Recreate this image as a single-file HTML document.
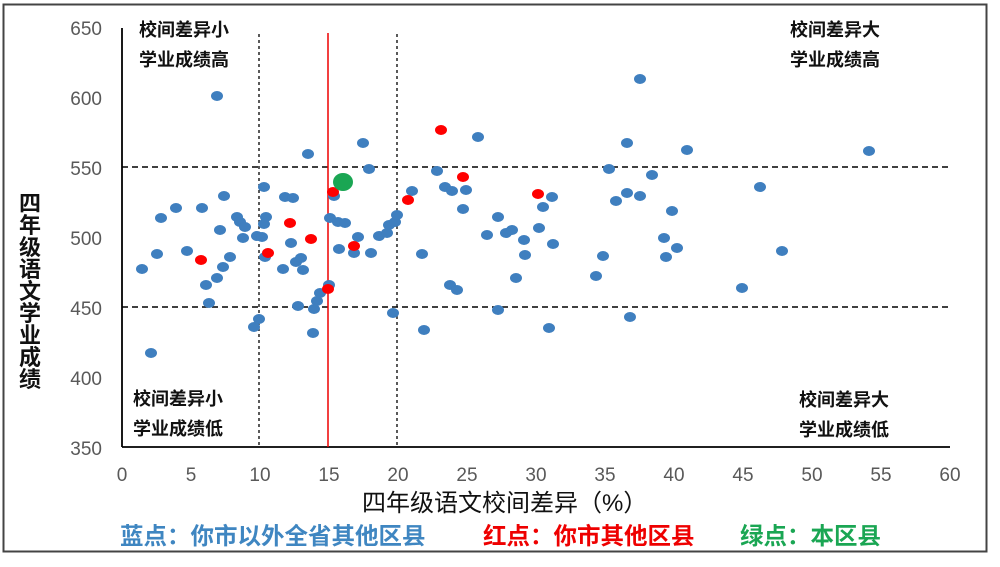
<!DOCTYPE html>
<html><head><meta charset="utf-8"><style>
body{margin:0;background:#fff;}
svg text{font-family:"Liberation Sans","Noto Sans CJK SC",sans-serif;}
</style></head><body>
<svg width="1000" height="562" viewBox="0 0 1000 562" xmlns="http://www.w3.org/2000/svg">
<rect x="3.5" y="4.5" width="983" height="547" fill="#fff" stroke="#444" stroke-width="2"/>
<g stroke="#000" stroke-width="1.5" stroke-dasharray="6,4" fill="none">
<line x1="122" y1="167" x2="950" y2="167"/>
<line x1="122" y1="307" x2="950" y2="307"/>
</g>
<g stroke="#000" stroke-width="1.3" stroke-dasharray="3,3" fill="none">
<line x1="259" y1="34" x2="259" y2="447"/>
<line x1="397" y1="34" x2="397" y2="447"/>
</g>
<line x1="122" y1="28" x2="122" y2="447" stroke="#000" stroke-width="1.8"/>
<line x1="122" y1="447" x2="950" y2="447" stroke="#000" stroke-width="1.8"/>
<line x1="328" y1="33" x2="328" y2="447" stroke="#e00" stroke-width="1.5"/>
<g font-size="19" fill="#595959" text-anchor="end">
<text x="102" y="35">650</text><text x="102" y="105">600</text><text x="102" y="175">550</text>
<text x="102" y="245">500</text><text x="102" y="315">450</text><text x="102" y="385">400</text><text x="102" y="455">350</text>
</g>
<g font-size="19" fill="#595959" text-anchor="middle">
<text x="122" y="481">0</text><text x="191" y="481">5</text><text x="260" y="481">10</text><text x="329" y="481">15</text>
<text x="398" y="481">20</text><text x="467" y="481">25</text><text x="536" y="481">30</text><text x="605" y="481">35</text>
<text x="674" y="481">40</text><text x="743" y="481">45</text><text x="812" y="481">50</text><text x="881" y="481">55</text><text x="950" y="481">60</text>
</g>
<g font-size="18" font-weight="bold" fill="#111">
<text x="139" y="36">校间差异小</text><text x="139" y="66">学业成绩高</text>
<text x="790" y="36">校间差异大</text><text x="790" y="66">学业成绩高</text>
<text x="133" y="405">校间差异小</text><text x="133" y="435">学业成绩低</text>
<text x="799" y="406">校间差异大</text><text x="799" y="436">学业成绩低</text>
</g>
<g font-size="22" font-weight="bold" fill="#111" text-anchor="middle">
<text x="30" y="211">四</text><text x="30" y="233">年</text><text x="30" y="255">级</text><text x="30" y="277">语</text>
<text x="30" y="299">文</text><text x="30" y="321">学</text><text x="30" y="343">业</text><text x="30" y="365">成</text><text x="30" y="387">绩</text>
</g>
<text x="362" y="511" font-size="24" fill="#111">四年级语文校间差异（%）</text>
<g font-size="23.5" font-weight="bold">
<text x="120" y="544" fill="#3f86c1">蓝点：你市以外全省其他区县</text>
<text x="483" y="544" fill="#e00">红点：你市其他区县</text>
<text x="740" y="544" fill="#1aa653">绿点：本区县</text>
</g>
<g fill="#3f7fbf">
<ellipse cx="217" cy="96" rx="6" ry="5"/><ellipse cx="308" cy="154" rx="6" ry="5"/><ellipse cx="363" cy="143" rx="6" ry="5"/>
<ellipse cx="369" cy="169" rx="6" ry="5"/><ellipse cx="264" cy="187" rx="6" ry="5"/><ellipse cx="224" cy="196" rx="6" ry="5"/>
<ellipse cx="285" cy="197" rx="6" ry="5"/><ellipse cx="293" cy="198" rx="6" ry="5"/><ellipse cx="176" cy="208" rx="6" ry="5"/>
<ellipse cx="202" cy="208" rx="6" ry="5"/><ellipse cx="161" cy="218" rx="6" ry="5"/><ellipse cx="237" cy="217" rx="6" ry="5"/>
<ellipse cx="240" cy="222" rx="6" ry="5"/><ellipse cx="245" cy="227" rx="6" ry="5"/><ellipse cx="266" cy="217" rx="6" ry="5"/>
<ellipse cx="264" cy="224" rx="6" ry="5"/><ellipse cx="220" cy="230" rx="6" ry="5"/><ellipse cx="243" cy="238" rx="6" ry="5"/>
<ellipse cx="257" cy="236" rx="6" ry="5"/><ellipse cx="262" cy="237" rx="6" ry="5"/><ellipse cx="330" cy="218" rx="6" ry="5"/>
<ellipse cx="338" cy="222" rx="6" ry="5"/><ellipse cx="345" cy="223" rx="6" ry="5"/><ellipse cx="358" cy="237" rx="6" ry="5"/>
<ellipse cx="379" cy="236" rx="6" ry="5"/><ellipse cx="387" cy="233" rx="6" ry="5"/><ellipse cx="389" cy="225" rx="6" ry="5"/>
<ellipse cx="395" cy="222" rx="6" ry="5"/><ellipse cx="397" cy="215" rx="6" ry="5"/><ellipse cx="412" cy="191" rx="6" ry="5"/>
<ellipse cx="437" cy="171" rx="6" ry="5"/><ellipse cx="445" cy="187" rx="6" ry="5"/><ellipse cx="452" cy="191" rx="6" ry="5"/>
<ellipse cx="334" cy="196" rx="6" ry="5"/><ellipse cx="291" cy="243" rx="6" ry="5"/><ellipse cx="157" cy="254" rx="6" ry="5"/>
<ellipse cx="187" cy="251" rx="6" ry="5"/><ellipse cx="230" cy="257" rx="6" ry="5"/><ellipse cx="223" cy="267" rx="6" ry="5"/>
<ellipse cx="265" cy="257" rx="6" ry="5"/><ellipse cx="296" cy="262" rx="6" ry="5"/><ellipse cx="301" cy="258" rx="6" ry="5"/>
<ellipse cx="339" cy="249" rx="6" ry="5"/><ellipse cx="354" cy="253" rx="6" ry="5"/><ellipse cx="371" cy="253" rx="6" ry="5"/>
<ellipse cx="422" cy="254" rx="6" ry="5"/><ellipse cx="142" cy="269" rx="6" ry="5"/><ellipse cx="283" cy="269" rx="6" ry="5"/>
<ellipse cx="303" cy="270" rx="6" ry="5"/><ellipse cx="217" cy="278" rx="6" ry="5"/><ellipse cx="206" cy="285" rx="6" ry="5"/>
<ellipse cx="329" cy="285" rx="6" ry="5"/><ellipse cx="320" cy="293" rx="6" ry="5"/><ellipse cx="317" cy="301" rx="6" ry="5"/>
<ellipse cx="314" cy="309" rx="6" ry="5"/><ellipse cx="298" cy="306" rx="6" ry="5"/><ellipse cx="209" cy="303" rx="6" ry="5"/>
<ellipse cx="450" cy="285" rx="6" ry="5"/><ellipse cx="457" cy="290" rx="6" ry="5"/><ellipse cx="393" cy="313" rx="6" ry="5"/>
<ellipse cx="259" cy="319" rx="6" ry="5"/><ellipse cx="254" cy="327" rx="6" ry="5"/><ellipse cx="313" cy="333" rx="6" ry="5"/>
<ellipse cx="424" cy="330" rx="6" ry="5"/><ellipse cx="151" cy="353" rx="6" ry="5"/>
<ellipse cx="640" cy="79" rx="6" ry="5"/><ellipse cx="478" cy="137" rx="6" ry="5"/><ellipse cx="627" cy="143" rx="6" ry="5"/>
<ellipse cx="687" cy="150" rx="6" ry="5"/><ellipse cx="869" cy="151" rx="6" ry="5"/><ellipse cx="609" cy="169" rx="6" ry="5"/>
<ellipse cx="652" cy="175" rx="6" ry="5"/><ellipse cx="466" cy="190" rx="6" ry="5"/><ellipse cx="463" cy="209" rx="6" ry="5"/>
<ellipse cx="552" cy="197" rx="6" ry="5"/><ellipse cx="543" cy="207" rx="6" ry="5"/><ellipse cx="616" cy="201" rx="6" ry="5"/>
<ellipse cx="627" cy="193" rx="6" ry="5"/><ellipse cx="640" cy="196" rx="6" ry="5"/><ellipse cx="672" cy="211" rx="6" ry="5"/>
<ellipse cx="760" cy="187" rx="6" ry="5"/><ellipse cx="498" cy="217" rx="6" ry="5"/><ellipse cx="487" cy="235" rx="6" ry="5"/>
<ellipse cx="506" cy="233" rx="6" ry="5"/><ellipse cx="512" cy="230" rx="6" ry="5"/><ellipse cx="524" cy="240" rx="6" ry="5"/>
<ellipse cx="539" cy="228" rx="6" ry="5"/><ellipse cx="553" cy="244" rx="6" ry="5"/><ellipse cx="525" cy="255" rx="6" ry="5"/>
<ellipse cx="603" cy="256" rx="6" ry="5"/><ellipse cx="664" cy="238" rx="6" ry="5"/><ellipse cx="677" cy="248" rx="6" ry="5"/>
<ellipse cx="666" cy="257" rx="6" ry="5"/><ellipse cx="782" cy="251" rx="6" ry="5"/><ellipse cx="516" cy="278" rx="6" ry="5"/>
<ellipse cx="596" cy="276" rx="6" ry="5"/><ellipse cx="742" cy="288" rx="6" ry="5"/><ellipse cx="498" cy="310" rx="6" ry="5"/>
<ellipse cx="549" cy="328" rx="6" ry="5"/><ellipse cx="630" cy="317" rx="6" ry="5"/>
</g>
<g fill="#f00">
<ellipse cx="441" cy="130" rx="6" ry="5"/><ellipse cx="333" cy="192" rx="6" ry="5"/><ellipse cx="408" cy="200" rx="6" ry="5"/>
<ellipse cx="290" cy="223" rx="6" ry="5"/><ellipse cx="311" cy="239" rx="6" ry="5"/><ellipse cx="268" cy="253" rx="6" ry="5"/>
<ellipse cx="354" cy="246" rx="6" ry="5"/><ellipse cx="201" cy="260" rx="6" ry="5"/><ellipse cx="328" cy="289" rx="6" ry="5"/>
<ellipse cx="463" cy="177" rx="6" ry="5"/><ellipse cx="538" cy="194" rx="6" ry="5"/>
</g>
<ellipse cx="343" cy="182" rx="10" ry="9" fill="#1aa653"/>
</svg>
</body></html>
